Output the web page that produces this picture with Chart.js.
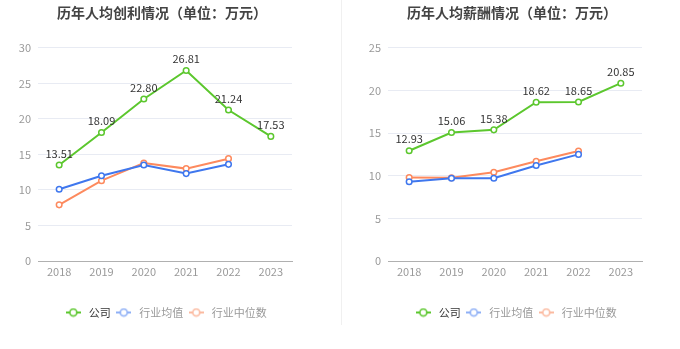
<!DOCTYPE html>
<html lang="zh">
<head>
<meta charset="UTF-8">
<title>历年人均创利与薪酬情况</title>
<script src="https://cdn.jsdelivr.net/npm/chart.js"></script>
<style>
  body { margin: 0; background: #fff; }
  .wrap { position: relative; width: 680px; height: 349px; }
  .box { position: absolute; top: 0; width: 340px; height: 349px; }
  .divider { position: absolute; left: 341px; top: 0; width: 1px; height: 325px; background: #f0f0f0; }
</style>
</head>
<body>
<div class="wrap">
  <div class="box" style="left:0"><canvas id="profitChart"></canvas></div>
  <div class="divider"></div>
  <div class="box" style="left:340px"><canvas id="salaryChart"></canvas></div>
</div>
<script>
// data
const years = ['2018', '2019', '2020', '2021', '2022', '2023'];
const seriesNames = ['公司', '行业均值', '行业中位数'];

const profitCompany = [13.51, 18.09, 22.80, 26.81, 21.24, 17.53];
const profitIndustryAvg = [10.1, 12.0, 13.5, 12.3, 13.6, null];
const profitIndustryMedian = [7.9, 11.3, 13.8, 13.0, 14.4, null];

const salaryCompany = [12.93, 15.06, 15.38, 18.62, 18.65, 20.85];
const salaryIndustryAvg = [9.3, 9.7, 9.7, 11.2, 12.5, null];
const salaryIndustryMedian = [9.8, 9.75, 10.4, 11.7, 12.9, null];

const lineColors = ['#5cc72e', '#3f77ee', '#fd8a5e'];
const legendColors = ['#5cc72e', '#8fb0f6', '#fbbaa0'];
const legendTextColors = ['#333', '#999', '#999'];

Chart.defaults.font.family = "'Noto Sans CJK SC', 'Noto Sans', sans-serif";
Chart.defaults.animation = false;

// line-with-circle icon for the legend
function makeIcon(color) {
  const c = document.createElement('canvas');
  c.width = 15; c.height = 10;
  const g = c.getContext('2d');
  g.strokeStyle = color;
  g.lineWidth = 2;
  g.beginPath(); g.moveTo(0, 5); g.lineTo(15, 5); g.stroke();
  g.beginPath(); g.arc(7.5, 5, 3.5, 0, Math.PI * 2);
  g.fillStyle = '#fff'; g.fill();
  g.lineWidth = 1.6; g.stroke();
  return c;
}
const icons = legendColors.map(makeIcon);

// value labels over the company line
const valueLabels = {
  id: 'valueLabels',
  afterDatasetsDraw(chart) {
    const ctx = chart.ctx;
    const meta = chart.getDatasetMeta(0);
    const data = chart.data.datasets[0].data;
    ctx.save();
    ctx.font = "11px 'Noto Sans CJK SC', sans-serif";
    ctx.fillStyle = '#333';
    ctx.textAlign = 'center';
    ctx.textBaseline = 'bottom';
    meta.data.forEach((pt, i) => {
      ctx.fillText(data[i].toFixed(2), pt.x, pt.y - 6);
    });
    ctx.restore();
  }
};

// centre title and legend over the plot area
const centerBoxes = {
  id: 'centerBoxes',
  beforeDraw(chart) {
    const a = chart.chartArea;
    const lg = chart.legend;
    lg.left = a.left; lg.right = a.right; lg.width = a.right - a.left;
    const t = chart.titleBlock;
    t.left = a.left - 6; t.right = a.right; t.width = t.right - t.left;
  }
};

function makeChart(id, title, values, maxY, axisWidth, padRight) {
  const datasets = values.map((v, i) => ({
    label: seriesNames[i],
    data: v,
    borderColor: lineColors[i],
    backgroundColor: '#fff',
    borderWidth: 2,
    pointRadius: 2.8,
    pointBorderWidth: 1.5,
    pointBackgroundColor: '#fff',
    pointBorderColor: lineColors[i],
    tension: 0
  }));
  return new Chart(document.getElementById(id), {
    type: 'line',
    data: { labels: years, datasets: datasets },
    options: {
      responsive: true,
      maintainAspectRatio: false,
      layout: { padding: { left: 0, right: padRight, top: 0, bottom: 21 } },
      plugins: {
        title: {
          display: true,
          text: title,
          color: '#444',
          font: { size: 14, weight: 'bold' },
          padding: { top: 4, bottom: 27 }
        },
        legend: {
          position: 'bottom',
          labels: {
            usePointStyle: true,
            pointStyleWidth: 20,
            padding: 3,
            font: { size: 11 },
            generateLabels(chart) {
              return chart.data.datasets.map((ds, i) => ({
                text: ds.label,
                pointStyle: icons[i],
                fontColor: legendTextColors[i],
                strokeStyle: legendColors[i],
                fillStyle: '#fff',
                lineWidth: 0,
                hidden: false,
                datasetIndex: i
              }));
            }
          }
        },
        tooltip: { enabled: false }
      },
      scales: {
        x: {
          offset: true,
          grid: { display: false, drawTicks: false },
          border: { display: true, color: '#b0b0b0' },
          ticks: { color: '#999', font: { size: 11 }, padding: 4 },
          afterFit(scale) { scale.height = 43; }
        },
        y: {
          min: 0,
          max: maxY,
          ticks: { stepSize: 5, color: '#999', font: { size: 11 }, padding: 7 },
          grid: { color: '#e8ebf3', drawTicks: false },
          border: { display: false },
          afterFit(scale) { scale.width = axisWidth; }
        }
      }
    },
    plugins: [valueLabels, centerBoxes]
  });
}

makeChart('profitChart', '历年人均创利情况（单位：万元）',
  [profitCompany, profitIndustryAvg, profitIndustryMedian], 30, 38, 48);
makeChart('salaryChart', '历年人均薪酬情况（单位：万元）',
  [salaryCompany, salaryIndustryAvg, salaryIndustryMedian], 25, 48, 38);
</script>
</body>
</html>
